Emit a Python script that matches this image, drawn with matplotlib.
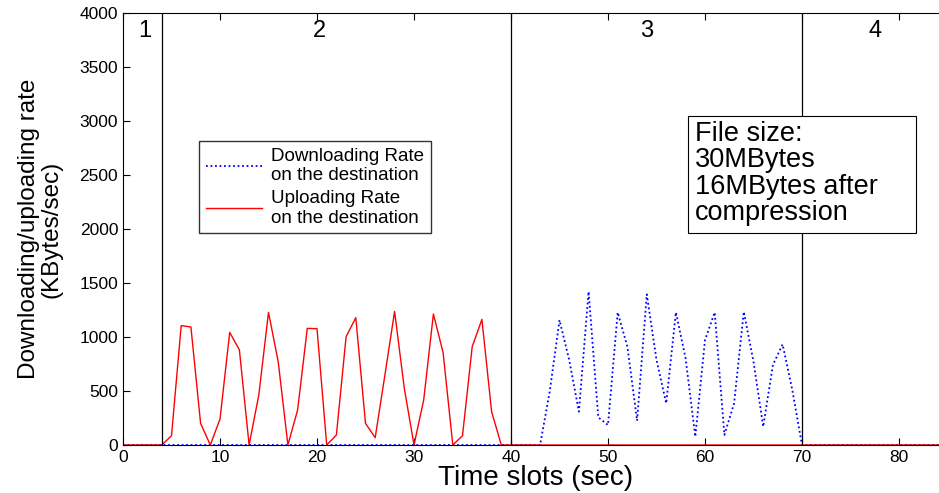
import numpy as np
import matplotlib
matplotlib.use('Agg')
import matplotlib.pyplot as plt

plt.rcParams['font.family'] = ['Liberation Sans', 'DejaVu Sans']

# uploading rate on the destination (KBytes/sec), one value per second
t_up = list(range(0, 86))
up_active = [0, 86, 1105, 1093, 200, 0, 240, 1043, 880, 0, 463, 1228, 772, 0,
             324, 1080, 1077, 0, 93, 1003, 1179, 200, 68, 648, 1237, 525, 0,
             417, 1213, 855, 0, 86, 910, 1163, 309, 0]  # seconds 4..39
up_rate = [0] * 4 + up_active + [0] * (86 - 4 - len(up_active))

# downloading rate on the destination (KBytes/sec)
t_down = list(range(0, 86))
down_active = [0, 0, 0, 0, 500, 1157, 787, 309, 1420, 256, 185, 1228, 910,
               225, 1395, 787, 386, 1228, 802, 77, 972, 1228, 93, 386, 1234,
               772, 170, 741, 932, 509, 0]  # seconds 40..70
down_rate = [0] * 40 + down_active + [0] * (86 - 40 - len(down_active))

phase_bounds = [4, 40, 70]
phase_labels = ['1', '2', '3', '4']
phase_label_x = [2.2, 20.3, 54.0, 77.5]

fig = plt.figure(figsize=(9.39, 4.93), dpi=100)
ax = fig.add_axes([123 / 939, 1 - 445 / 493, 85 * 9.7 / 939, 432 / 493])

l1, = ax.plot(t_down, down_rate, color='blue', linestyle=(0, (1, 1.5)), linewidth=1.3,
              label='Downloading Rate\non the destination')
l2, = ax.plot(t_up, up_rate, color='red', linewidth=1.0,
              label='Uploading Rate\non the destination')

for b in phase_bounds:
    ax.axvline(b, color='black', linewidth=0.9)

for lab, xx in zip(phase_labels, phase_label_x):
    ax.text(xx, 3830, lab, fontsize=17, ha='center', va='center')

# file size note, box drawn a bit wider than the text like the original
ax.text(59.0, 3000, 'File size:\n30MBytes\n16MBytes after\ncompression',
        fontsize=19.5, ha='left', va='top', linespacing=1.02, zorder=5)
ax.add_patch(plt.Rectangle((58.2, 1960), 23.6, 1085, facecolor='white',
                           edgecolor='black', linewidth=0.8, zorder=4))

ax.legend(handles=[l1, l2], loc='upper left', bbox_to_anchor=(0.081, 0.725),
          fontsize=13.5, frameon=True, fancybox=False, edgecolor='black',
          handlelength=3.0, handletextpad=0.5, borderpad=0.35, labelspacing=0.3)

ax.set_xlim(0, 85)
ax.set_ylim(0, 4000)
ax.set_xticks(range(0, 90, 10))
ax.set_yticks(range(0, 4500, 500))
ax.tick_params(direction='in', top=True, right=True, labelsize=12.5, length=5)
ax.set_xlabel('Time slots (sec)', fontsize=20, labelpad=0)
ax.set_ylabel('Downloading/uploading rate\n(KBytes/sec)', fontsize=17.5, labelpad=12,
              linespacing=1.05)

fig.savefig('out.png', dpi=100)
